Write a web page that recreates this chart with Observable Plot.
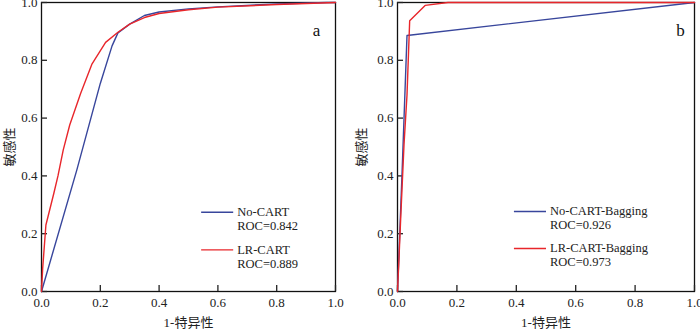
<!DOCTYPE html>
<html><head><meta charset="utf-8">
<script src="https://cdn.jsdelivr.net/npm/d3@7"></script>
<script src="https://cdn.jsdelivr.net/npm/@observablehq/plot@0.6"></script>
<style>
body{margin:0;background:#fff}
#wrap{display:flex;width:700px;height:330px;overflow:hidden}
#wrap svg, #wrap svg text{font-family:'Liberation Serif','Times New Roman','Noto Sans CJK SC',serif !important}
</style>
</head><body><div id="wrap"></div>
<script>
// ---- data ----
const tickValues = [0, 0.2, 0.4, 0.6, 0.8, 1.0];
const tickLabels = ["0.0", "0.2", "0.4", "0.6", "0.8", "1.0"];
const xLabel = "1-特异性";
const yLabel = "敏感性";

// Panel a
const aNoCartFpr = [0, 0.12, 0.2, 0.24, 0.26, 0.3, 0.35, 0.4, 0.5, 0.6, 0.8, 0.97, 1.0];
const aNoCartTpr = [0, 0.42, 0.72, 0.85, 0.895, 0.925, 0.955, 0.967, 0.978, 0.985, 0.995, 1.0, 1.0];
const aLrCartFpr = [0, 0.004, 0.015, 0.042, 0.056, 0.074, 0.096, 0.133, 0.172, 0.218, 0.26, 0.3, 0.35, 0.4, 0.5, 0.6, 0.8, 1.0];
const aLrCartTpr = [0, 0.08, 0.23, 0.34, 0.4, 0.49, 0.576, 0.685, 0.788, 0.862, 0.897, 0.925, 0.948, 0.962, 0.975, 0.984, 0.993, 1.0];

// Panel b
const bNoCartFpr = [0, 0.015, 0.032, 1.0];
const bNoCartTpr = [0, 0.40, 0.886, 1.0];
const bLrCartFpr = [0, 0.004, 0.011, 0.022, 0.032, 0.041, 0.093, 0.17, 1.0];
const bLrCartTpr = [0, 0.09, 0.26, 0.51, 0.68, 0.937, 0.99, 1.0, 1.0];

const seriesNames = ["No-CART", "LR-CART", "No-CART-Bagging", "LR-CART-Bagging"];
const rocValues = ["ROC=0.842", "ROC=0.889", "ROC=0.926", "ROC=0.973"];
const panelLetters = ["a", "b"];

const blue = "#38469c";
const red = "#e8262b";
const fontFamily = "'Liberation Serif','Times New Roman','Noto Sans CJK SC',serif";

function toRows(fpr, tpr) { return fpr.map((x, i) => ({x, y: tpr[i]})); }

function panel({width, marginLeft, marginRight, blueRows, redRows, letter, letterDx, names, rocs, leg, yLabelOffset}) {
  const legendRows = [
    {x1: leg.x1, x2: leg.x2, y: leg.y1, c: blue, name: names[0], roc: rocs[0]},
    {x1: leg.x1, x2: leg.x2, y: leg.y2, c: red, name: names[1], roc: rocs[1]}
  ];
  return Plot.plot({
    width, height: 330,
    marginLeft, marginRight, marginTop: 2, marginBottom: 39,
    style: {fontFamily, fontSize: "13px", color: "#222", background: "#fff", overflow: "visible"},
    x: {domain: [0, 1]},
    y: {domain: [0, 1]},
    marks: [
      Plot.frame({stroke: "#111", strokeWidth: 1.3}),
      Plot.axisX({ticks: tickValues, tickFormat: (d, i) => tickLabels[i], tickSize: -6, tickPadding: 12, strokeWidth: 1.3,
                  label: xLabel, labelArrow: false, labelAnchor: "center", labelOffset: 35, fontSize: 13, fontFamily}),
      Plot.axisY({ticks: tickValues, tickFormat: (d, i) => tickLabels[i], tickSize: -6, tickPadding: 10, strokeWidth: 1.3,
                  label: yLabel, labelArrow: false, labelAnchor: "center", labelOffset: yLabelOffset, fontSize: 13, fontFamily}),
      Plot.line(blueRows, {x: "x", y: "y", stroke: blue, strokeWidth: 1.4}),
      Plot.line(redRows, {x: "x", y: "y", stroke: red, strokeWidth: 1.4}),
      Plot.link(legendRows, {x1: "x1", x2: "x2", y1: "y", y2: "y", stroke: "c", strokeWidth: 1.4}),
      Plot.text(legendRows, {x: "x2", y: "y", text: "name", textAnchor: "start", dx: 4, fontSize: 12.5, fill: "#222", fontFamily}),
      Plot.text(legendRows, {x: "x2", y: "y", text: "roc", textAnchor: "start", dx: 4, dy: 14, fontSize: 12.5, fill: "#222", fontFamily}),
      Plot.text([letter], {text: d => d, frameAnchor: "top-right", dx: letterDx, dy: 28, fontSize: 17, fill: "#111", lineAnchor: "middle", textAnchor: "middle", fontFamily})
    ]
  });
}

const wrap = document.getElementById("wrap");
wrap.append(panel({
  width: 350, marginLeft: 41, marginRight: 15,
  blueRows: toRows(aNoCartFpr, aNoCartTpr), redRows: toRows(aLrCartFpr, aLrCartTpr),
  letter: panelLetters[0], letterDx: -19, names: seriesNames.slice(0, 2), rocs: rocValues.slice(0, 2),
  leg: {x1: 0.543, x2: 0.652, y1: 0.274, y2: 0.144}, yLabelOffset: 37
}));
wrap.append(panel({
  width: 350, marginLeft: 47, marginRight: 6,
  blueRows: toRows(bNoCartFpr, bNoCartTpr), redRows: toRows(bLrCartFpr, bLrCartTpr),
  letter: panelLetters[1], letterDx: -14, names: seriesNames.slice(2, 4), rocs: rocValues.slice(2, 4),
  leg: {x1: 0.392, x2: 0.5, y1: 0.277, y2: 0.149}, yLabelOffset: 41
}));
</script></body></html>
